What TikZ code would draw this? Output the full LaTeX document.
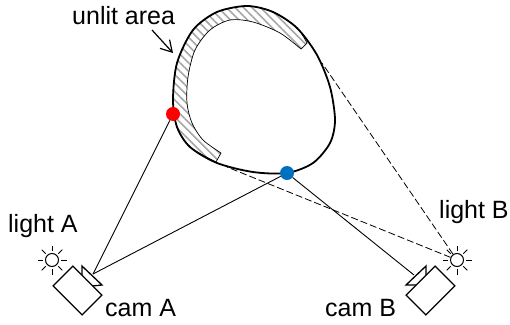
\documentclass[tikz,border=0pt]{standalone}
\usepackage{fontspec}
\setmainfont{Liberation Sans}
\usetikzlibrary{arrows.meta,patterns.meta}

\begin{document}
\begin{tikzpicture}[x=1pt,y=-1pt,>={Straight Barb[length=11pt,width=13pt,line width=1.2pt]},
  lab/.style={font=\fontsize{25}{28}\selectfont,anchor=base west,inner sep=0pt},
  dot/.style={circle,minimum size=14pt,inner sep=0pt},
  cam/.style={draw,line width=1.3pt,fill=white,minimum width=41pt,minimum height=28pt,inner sep=0pt},
  lamp/.style={circle,draw,line width=1pt,minimum size=13pt,inner sep=0pt},
  ray/.style={line width=1pt},
  sight/.style={line width=0.9pt},
  shadow/.style={line width=0.8pt,dash pattern=on 7pt off 3pt}]
\useasboundingbox (0,0) rectangle (510,324);
% hatched part of the rim
\draw[line width=0.7pt,line join=round,pattern={Lines[angle=-45,distance=6pt,line width=1.6pt]},pattern color=gray!70]
  plot[smooth] coordinates {(307,43) (297,28) (273,12) (247,6) (217,12) (193,30) (177,63) (173,100) (177,127) (190,147) (216,162)}
  -- (221,153)
  -- plot[smooth] coordinates {(221,153) (203,140) (192,123) (187,103) (188,77) (195,50) (210,30) (230,20) (253,22) (280,33) (301,49)}
  -- cycle;
% shadow lines sit under the object
\coordinate (tanB) at (322,63);
\coordinate (tanA) at (227,167);
\coordinate (lensA) at (93,274);
\coordinate (lensB) at (414,275);
\node[lamp] (lightA) at (52,260) {};
\node[lamp] (lightB) at (457,260) {};
\draw[shadow] (lightB) -- (tanB);
\draw[shadow] (lightB) -- (tanA);
% object outline
\draw[line width=1.8pt] plot[smooth cycle] coordinates {(173,100) (177,63) (193,30) (217,12) (247,6) (273,12) (297,28) (317,55) (330,87) (335,120) (330,143) (313,163) (287,173) (253,172) (217,163) (190,147) (177,127)};
\node[dot,fill=red] (ptA) at (173,114) {};
\node[dot,fill={rgb,255:red,0;green,112;blue,192}] (ptB) at (287,173) {};
\draw[sight] (ptA) -- (lensA);
\draw[sight] (ptB) -- (lensA);
\draw[sight] (ptB) -- (lensB);
% cameras
\draw[line width=1.3pt,line join=miter] (82,284) -- (82,266) -- (102,285) -- (92,286);
\draw[line width=1.3pt,line join=miter] (426,284) -- (426,266) -- (406,285) -- (416,285);
\node[cam,rotate=-45] (camA) at (77.5,290.5) {};
\node[cam,rotate=45] (camB) at (430.5,290.5) {};
% lights
\foreach \l in {lightA,lightB}
  \foreach \a in {0,45,...,315} \draw[ray] (\l) ++(\a:9) -- ++(\a:5.5);
\node[lab] (lblLightA) at (8,232) {light A};
\node[lab] (lblCamA) at (105,316) {cam A};
\node[lab] (lblLightB) at (439,218) {light B};
\node[lab] (lblCamB) at (325,316) {cam B};
\node[lab] (lblUnlit) at (72,24) {unlit area};
\coordinate (tipUnlit) at (173,53);
\draw[->,line width=1.2pt] (152,30) -- (tipUnlit);
\end{tikzpicture}
\end{document}
